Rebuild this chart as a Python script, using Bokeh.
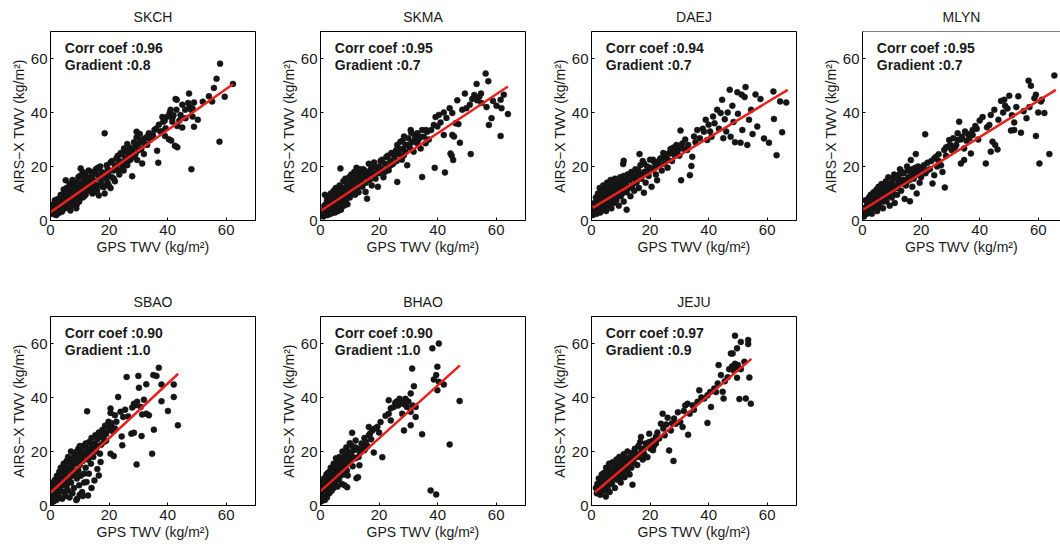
from bokeh.plotting import figure
from bokeh.models import Range1d, FixedTicker, Label, Span
from bokeh.layouts import column, row
from bokeh.embed import file_html
from bokeh.resources import INLINE

FONT = "Liberation Sans"

STATIONS = ["SKCH", "SKMA", "DAEJ", "MLYN", "SBAO", "BHAO", "JEJU"]
CORR = ["0.96", "0.95", "0.94", "0.95", "0.90", "0.90", "0.97"]
GRAD = ["0.8", "0.7", "0.7", "0.7", "1.0", "1.0", "0.9"]
TICKS = [0, 20, 40, 60]

# regression line end points (GPS, AIRS-X)
SKCH_FIT = ([0.0, 62.3], [3.1, 50.5])
SKMA_FIT = ([0.3, 64.0], [3.7, 49.6])
DAEJ_FIT = ([0.4, 67.0], [4.7, 48.4])
MLYN_FIT = ([0.2, 66.0], [4.0, 48.4])
SBAO_FIT = ([0.0, 43.6], [4.7, 48.8])
BHAO_FIT = ([0.0, 47.6], [5.3, 51.9])
JEJU_FIT = ([1.2, 54.6], [4.9, 54.3])

SKCH_PTS = [
    (0.5,2.5),(0.8,4.0),(1.0,3.0),(1.2,5.5),(1.5,2.2),(1.8,4.5),(2.0,6.5),(2.2,3.5),(2.5,5.0),(2.8,2.8),
    (3.0,7.5),(3.2,4.2),(3.5,6.0),(3.8,3.2),(4.0,8.5),(4.2,5.5),(4.5,7.0),(4.8,10.0),(5.0,4.5),(5.2,14.9),
    (5.5,9.0),(5.8,6.5),(6.0,11.0),(6.2,5.0),(6.5,8.0),(6.8,3.7),(7.0,10.5),(7.2,12.0),(7.5,6.5),(7.8,9.5),
    (8.0,13.0),(8.2,7.5),(8.5,11.0),(8.8,4.5),(9.0,9.0),(9.2,14.0),(9.5,12.0),(9.8,7.0),(10.0,16.5),(10.3,19.3),
    (10.5,10.5),(10.8,13.5),(11.0,8.5),(11.2,15.0),(11.5,11.5),(11.8,17.0),(12.0,9.5),(12.3,13.0),(12.6,14.5),(13.0,11.0),
    (13.3,16.0),(13.6,12.5),(14.0,18.0),(14.3,10.0),(14.6,15.0),(15.0,13.5),(15.3,17.5),(15.6,11.5),(15.9,11.2),(16.2,19.5),
    (16.5,9.3),(16.8,15.5),(17.1,14.9),(17.4,18.0),(17.8,12.5),(18.2,12.4),(18.5,32.3),(18.8,16.5),(19.2,20.5),(19.5,14.0),
    (19.9,13.0),(20.2,18.5),(20.5,21.5),(21.0,16.0),(21.6,15.5),(22.0,20.0),(22.5,23.0),(23.0,18.5),(23.5,22.0),(24.0,25.0),
    (24.5,19.5),(25.1,26.7),(25.5,21.5),(26.2,28.3),(26.2,20.5),(26.8,24.0),(27.3,22.5),(27.9,26.1),(27.9,16.4),(28.5,23.6),
    (29.0,27.5),(29.4,32.9),(29.4,30.8),(29.6,22.4),(30.0,26.0),(30.8,29.8),(31.3,21.1),(31.9,24.6),(32.1,30.4),(33.0,28.0),
    (33.6,32.3),(34.7,31.1),(35.5,33.5),(36.4,25.8),(36.8,21.4),(37.5,33.0),(38.2,38.3),(38.5,36.6),(39.1,31.3),(39.3,34.2),
    (40.4,30.1),(40.7,39.8),(41.0,41.0),(41.2,29.6),(41.6,37.9),(41.6,36.6),(42.5,27.7),(42.7,45.0),(43.1,44.7),(43.3,27.1),
    (43.3,35.0),(44.4,39.1),(45.0,42.9),(45.0,34.4),(46.1,37.9),(47.3,47.0),(47.5,42.0),(48.1,19.0),(48.5,41.5),(49.0,43.7),
    (49.0,34.7),(50.3,37.3),(54.1,46.0),(55.2,44.1),(55.8,49.1),(56.7,52.5),(57.7,29.2),(57.9,58.1),(59.5,45.8),(62.3,50.6),
    (1.0,6.0),(1.5,7.5),(2.0,2.0),(2.5,8.0),(3.0,5.5),(3.5,9.5),(4.0,3.5),(4.5,11.5),(5.0,7.0),(5.5,12.0),
    (6.0,8.5),(6.5,13.5),(7.0,5.5),(7.5,15.0),(8.0,10.0),(8.5,14.0),(9.0,6.0),(9.5,16.0),(10.0,9.0),(10.5,13.0),
    (11.0,18.0),(11.5,9.0),(12.0,16.0),(12.5,11.5),(13.0,18.5),(13.5,14.0),(14.0,12.0),(14.5,17.0),(15.0,10.5),(15.5,19.0),
    (16.0,13.0),(16.5,16.5),(17.0,20.0),(17.5,13.5),(18.0,17.5),(18.5,10.0),(19.0,15.5),(19.5,19.0),(20.0,16.5),(20.5,12.0),
    (21.0,22.0),(21.5,18.5),(22.0,14.5),(22.5,20.5),(23.0,24.0),(23.5,17.0),(24.0,21.5),(24.5,24.5),(25.0,18.5),(25.5,23.0),
    (26.0,25.5),(26.5,22.0),(27.0,27.0),(28.0,25.0),(28.5,29.0),(29.0,24.5),(30.0,28.5),(30.5,32.0),(31.0,26.5),(32.0,28.5),
    (33.0,31.0),(34.0,30.0),(35.0,31.5),(36.0,34.0),(37.0,35.5),(38.0,33.0),(39.0,37.0),(40.0,38.5),(42.0,39.0),(43.0,41.0),
    (44.0,37.0),(46.0,41.0),(47.0,43.5),(48.0,41.0),(48.5,38.5),(52.0,44.0),
]

SKMA_PTS = [
    (1.0,1.5),(1.2,4.0),(1.5,2.5),(1.5,9.5),(1.8,6.0),(2.0,3.0),(2.2,7.5),(2.5,2.0),(2.5,5.0),(2.8,8.5),
    (3.0,3.5),(3.2,6.5),(3.5,10.0),(3.5,2.5),(3.8,5.0),(4.0,8.0),(4.2,3.8),(4.5,11.0),(4.5,6.5),(4.8,4.5),
    (5.0,9.0),(5.2,12.0),(5.5,5.5),(5.5,7.5),(5.8,10.5),(6.0,3.5),(6.2,8.0),(6.5,13.0),(6.5,6.0),(6.8,19.3),
    (7.0,10.0),(7.0,4.0),(7.3,12.0),(7.5,7.0),(7.8,14.5),(8.0,9.0),(8.0,5.5),(8.3,11.5),(8.5,15.5),(8.8,8.0),
    (9.0,13.0),(9.2,6.0),(9.5,10.5),(9.8,16.0),(10.0,12.5),(10.0,8.5),(10.3,14.0),(10.5,17.0),(10.8,10.0),(11.0,15.0),
    (11.2,12.0),(11.5,18.0),(11.8,9.5),(12.0,14.5),(12.3,19.5),(12.5,12.0),(12.8,16.0),(13.0,10.5),(13.3,17.5),(13.6,14.0),
    (14.0,15.5),(14.3,12.5),(14.6,19.0),(15.0,16.5),(15.4,10.6),(15.5,14.0),(15.9,8.1),(16.0,18.0),(16.5,21.0),(16.8,15.0),
    (17.2,19.0),(17.5,13.0),(18.0,17.0),(18.3,21.5),(18.8,15.5),(19.2,19.5),(19.6,12.5),(20.0,17.5),(20.5,22.0),(21.0,19.0),
    (21.5,16.0),(22.0,21.0),(22.5,23.5),(23.0,19.5),(23.3,18.6),(23.8,22.0),(24.2,25.0),(24.8,21.0),(25.2,23.5),(25.8,26.0),
    (26.2,28.0),(26.2,14.3),(26.8,24.5),(27.3,29.2),(27.8,22.5),(28.2,26.5),(28.5,31.1),(28.5,24.2),(29.0,28.0),(29.6,20.5),
    (30.0,30.5),(30.5,27.0),(30.8,33.5),(31.2,29.0),(31.8,25.5),(32.2,31.5),(33.0,32.3),(33.0,28.6),(33.5,30.0),(34.2,26.7),
    (34.7,33.5),(34.7,16.1),(35.3,31.0),(35.9,28.6),(36.4,32.9),(37.0,30.0),(37.8,33.5),(38.7,35.4),(39.0,19.5),(39.3,38.3),
    (39.9,34.8),(40.4,39.1),(41.0,36.3),(42.1,40.0),(42.1,31.7),(42.5,17.8),(43.0,38.0),(44.1,41.6),(44.4,24.8),(44.8,24.0),
    (45.0,39.8),(45.0,31.7),(45.3,22.4),(45.6,31.1),(46.1,36.0),(46.7,44.5),(47.1,35.7),(47.6,28.8),(48.4,41.0),(49.3,47.0),
    (49.8,41.6),(51.0,42.9),(51.3,24.6),(51.8,45.0),(52.5,46.5),(53.3,50.6),(53.5,44.5),(54.2,45.8),(54.8,47.0),(55.0,43.5),
    (56.4,54.4),(56.7,42.0),(57.3,51.6),(57.5,35.4),(58.4,37.9),(58.9,44.3),(60.1,42.5),(61.5,44.7),(61.5,31.3),(61.8,41.6),
    (62.6,46.6),(64.0,39.4),
    (1.0,3.0),(1.3,5.5),(1.8,2.0),(2.0,4.5),(2.3,9.0),(2.7,3.5),(3.0,6.0),(3.3,4.0),(3.7,7.5),(4.0,2.8),
    (4.3,9.5),(4.7,5.5),(5.0,3.0),(5.3,7.0),(5.7,4.5),(6.0,10.0),(6.3,5.0),(6.7,11.5),(7.0,7.5),(7.5,9.5),
    (8.0,12.0),(8.5,7.0),(9.0,10.0),(9.5,13.5),(10.0,10.0),(10.5,12.0),(11.0,13.5),(11.5,10.5),(12.0,17.0),(12.5,15.0),
    (13.0,13.0),(13.5,19.0),(14.0,17.0),(15.0,18.5),(16.0,16.0),(17.0,17.5),(18.0,19.5),(19.0,17.5),(20.0,20.0),(21.0,22.5),
    (22.0,18.0),(23.0,24.0),(24.0,20.5),(25.0,25.0),(26.0,22.0),(27.0,26.5),(28.0,29.5),(29.0,25.5),(30.0,28.0),(31.0,32.5),
    (32.0,29.5),(34.0,31.0),(36.0,33.5),
]

DAEJ_PTS = [
    (0.5,2.0),(0.8,4.0),(1.0,6.5),(1.2,3.0),(1.5,5.0),(1.5,8.5),(1.8,2.5),(2.0,6.0),(2.2,10.0),(2.5,4.0),
    (2.5,7.5),(2.8,12.0),(3.0,3.0),(3.0,9.0),(3.2,5.5),(3.5,11.0),(3.8,7.0),(4.0,4.5),(4.0,13.0),(4.3,9.5),
    (4.5,6.0),(4.8,11.5),(5.0,3.5),(5.0,8.0),(5.3,14.0),(5.5,10.0),(5.8,5.5),(6.0,12.5),(6.2,7.5),(6.5,9.5),
    (6.5,15.0),(6.8,4.5),(7.0,11.0),(7.3,13.5),(7.5,6.5),(7.8,9.0),(8.0,15.5),(8.2,12.0),(8.5,7.5),(8.8,10.5),
    (9.0,14.0),(9.3,5.5),(9.5,12.5),(9.8,16.0),(10.0,9.0),(10.3,11.5),(10.5,14.5),(10.8,20.9),(11.0,22.1),(11.0,7.0),
    (11.3,13.0),(11.6,15.5),(12.0,4.0),(12.0,10.5),(12.3,17.0),(12.6,12.5),(13.0,15.0),(13.3,9.0),(13.6,18.0),(14.0,13.0),
    (14.3,16.0),(14.6,11.0),(15.0,19.0),(15.4,14.0),(15.8,17.0),(16.2,12.0),(16.4,24.6),(16.7,20.5),(17.0,15.5),(17.5,22.0),
    (17.9,10.3),(18.0,18.0),(18.5,14.0),(19.0,20.0),(19.5,16.5),(20.0,22.5),(20.5,12.5),(21.0,19.0),(21.5,21.5),(22.0,17.0),
    (22.4,14.9),(23.0,20.5),(23.5,23.0),(24.0,18.5),(24.5,25.0),(25.0,21.0),(25.5,23.5),(26.0,19.5),(26.5,25.0),(27.0,24.8),
    (27.5,22.0),(28.0,27.0),(28.5,24.0),(29.0,28.0),(29.5,26.0),(30.0,24.0),(30.4,33.3),(30.6,14.9),(31.0,28.5),(31.5,26.5),
    (32.0,30.0),(32.7,26.1),(33.0,28.0),(33.6,16.8),(34.1,20.2),(34.4,23.6),(35.0,31.1),(35.5,29.0),(36.1,33.5),(37.0,30.5),
    (38.0,34.0),(38.4,32.9),(39.0,37.3),(39.5,29.8),(40.0,35.5),(40.5,33.0),(41.0,31.0),(41.5,38.5),(42.0,36.0),(42.9,41.0),
    (43.5,34.0),(44.1,39.8),(44.6,44.7),(45.0,30.5),(45.5,37.5),(46.0,33.0),(46.5,40.0),(47.2,48.4),(47.5,31.0),(48.1,42.5),
    (48.5,36.5),(49.0,29.0),(49.8,47.5),(50.0,39.5),(50.9,28.8),(51.3,46.6),(51.5,33.5),(52.3,45.7),(52.6,49.4),(53.2,28.0),
    (53.8,37.3),(54.5,41.0),(55.0,32.0),(56.0,46.7),(56.6,34.8),(57.7,45.0),(58.9,30.4),(60.6,28.8),(62.1,47.8),(62.3,37.6),
    (63.2,24.2),(64.4,44.1),(65.1,32.7),(66.5,43.7),
    (1.0,4.5),(1.5,3.0),(2.0,8.0),(2.5,5.5),(3.0,7.0),(3.5,4.0),(4.0,10.5),(4.5,8.0),(5.0,6.0),(5.5,12.0),
    (6.0,9.5),(6.5,11.5),(7.0,8.5),(7.5,14.0),(8.0,10.5),(8.5,13.0),(9.0,9.5),(9.5,15.0),(10.0,12.5),(10.5,10.0),
    (11.0,16.5),(12.0,14.5),(13.0,12.0),(14.0,17.0),(15.0,15.0),(16.0,18.5),(17.0,17.0),(18.0,21.0),(19.0,18.0),(20.0,19.5),
    (21.0,22.5),(22.0,20.0),(23.0,22.0),(24.0,23.0),(25.0,24.5),(26.0,22.5),(27.0,26.5),(28.0,25.5),(29.0,27.0),(30.0,27.5),
]

MLYN_PTS = [
    (0.5,1.5),(0.8,3.5),(1.0,7.5),(1.2,5.0),(1.5,2.5),(1.8,6.5),(2.0,4.0),(2.2,8.5),(2.5,3.0),(2.5,6.0),
    (2.8,9.5),(3.0,5.0),(3.2,2.5),(3.5,7.5),(3.8,10.5),(4.0,4.5),(4.2,8.5),(4.5,6.0),(4.8,11.5),(5.0,3.5),
    (5.2,9.0),(5.5,12.5),(5.8,7.0),(6.0,5.0),(6.2,10.5),(6.5,13.5),(6.8,8.0),(7.0,4.5),(7.3,11.5),(7.6,9.5),
    (8.0,14.5),(8.2,7.0),(8.5,12.0),(8.8,16.0),(9.0,10.0),(9.3,5.5),(9.6,13.5),(10.0,8.5),(10.2,15.5),(10.5,11.5),
    (10.8,17.0),(11.0,6.5),(11.4,13.0),(11.8,9.5),(12.0,16.0),(12.4,14.0),(12.8,19.0),(13.2,11.0),(13.6,15.0),(14.0,17.5),
    (14.4,8.0),(14.8,13.0),(15.2,20.0),(15.6,16.0),(16.2,7.1),(16.5,22.4),(16.5,18.0),(17.0,12.5),(17.5,15.5),(18.0,19.5),
    (18.2,24.6),(18.5,10.0),(19.0,17.0),(19.5,14.0),(20.0,19.0),(21.4,31.9),(21.5,17.5),(22.2,21.4),(23.0,19.0),(23.9,13.7),
    (24.5,16.8),(24.5,23.0),(25.1,23.6),(25.5,20.0),(26.0,24.5),(26.8,20.5),(27.3,18.0),(27.9,26.1),(28.1,12.2),(28.5,24.0),
    (29.0,27.3),(29.6,29.8),(30.5,26.0),(31.0,30.5),(32.0,28.0),(32.5,32.3),(32.5,29.8),(33.0,36.6),(33.6,21.1),(34.0,31.0),
    (34.7,26.7),(34.7,22.4),(35.5,29.5),(36.0,32.0),(37.0,24.8),(37.6,33.5),(37.6,31.7),(38.5,35.0),(39.5,30.0),(40.0,37.0),
    (41.0,38.3),(42.1,21.1),(42.5,34.5),(43.3,35.4),(43.8,39.1),(43.8,25.5),(44.4,29.2),(45.0,41.0),(45.3,28.0),(46.1,26.3),
    (46.4,37.3),(47.3,44.3),(48.0,40.0),(48.4,44.7),(48.7,42.5),(49.5,41.5),(50.1,46.2),(50.7,33.3),(51.0,39.0),(51.8,36.3),
    (51.8,33.5),(52.5,42.0),(53.2,46.0),(54.1,32.5),(55.0,40.5),(56.0,37.9),(56.7,51.8),(57.0,42.0),(57.5,49.9),(58.7,45.3),
    (59.2,46.6),(59.2,31.3),(60.0,40.0),(60.4,21.1),(60.9,44.1),(61.2,44.7),(62.1,39.8),(63.8,24.6),(65.5,53.7),
    (1.0,3.0),(1.5,5.5),(2.0,7.0),(2.5,4.5),(3.0,8.0),(3.5,5.0),(4.0,9.5),(4.5,7.5),(5.0,6.0),(5.5,10.5),
    (6.0,8.5),(6.5,11.0),(7.0,7.0),(7.5,13.0),(8.0,10.0),(8.5,9.0),(9.0,12.5),(9.5,11.0),(10.0,14.0),(10.5,9.5),
    (11.0,12.0),(11.5,15.5),(12.0,12.0),(12.5,17.0),(13.0,13.5),(13.5,18.0),(14.0,15.0),(15.0,14.0),(15.5,18.5),(16.0,15.0),
    (17.0,19.0),(17.5,17.0),(18.5,18.0),(19.0,20.0),(20.0,16.0),(21.0,20.5),(22.0,18.5),(23.5,22.0),(26.0,22.0),(28.5,27.0),
    (30.0,28.0),(31.5,27.0),(33.5,30.0),(35.0,33.0),(36.5,30.5),(39.0,34.0),
]

SBAO_PTS = [
    (0.2,1.0),(0.3,3.5),(0.5,6.0),(0.5,2.0),(0.8,8.5),(1.0,4.5),(1.0,1.5),(1.2,7.0),(1.5,3.0),(1.5,9.5),
    (1.8,5.5),(2.0,2.0),(2.0,8.0),(2.2,11.0),(2.5,4.0),(2.5,6.5),(2.8,10.0),(3.0,3.0),(3.0,12.5),(3.2,8.5),
    (3.5,5.5),(3.5,14.0),(3.8,10.5),(4.0,2.5),(4.0,7.5),(4.2,12.0),(4.5,15.5),(4.5,5.0),(4.8,9.5),(5.0,13.5),
    (5.0,3.5),(5.2,11.0),(5.5,16.5),(5.5,7.0),(5.8,14.0),(6.0,5.5),(6.0,18.0),(6.2,10.0),(6.5,12.5),(6.5,3.0),
    (6.8,16.0),(7.0,8.5),(7.0,20.0),(7.3,14.5),(7.5,11.0),(7.5,4.5),(7.8,17.5),(8.0,13.0),(8.0,6.5),(8.3,19.0),
    (8.5,15.5),(8.8,2.0),(9.0,10.0),(9.1,2.5),(9.3,17.0),(9.5,21.0),(9.5,13.0),(9.8,7.5),(10.0,18.5),(10.0,15.0),
    (10.3,11.0),(10.5,20.0),(10.8,5.0),(11.0,16.5),(11.2,22.0),(11.4,11.8),(11.5,8.5),(11.8,19.0),(12.0,14.0),(12.3,8.7),
    (12.5,34.9),(12.5,21.0),(12.8,3.7),(12.8,17.0),(13.1,11.8),(13.2,23.5),(13.5,19.5),(13.8,15.5),(14.0,25.0),(14.3,21.5),
    (14.6,18.0),(15.0,9.3),(15.0,23.0),(15.3,26.0),(15.6,20.0),(16.0,24.5),(16.5,11.1),(16.5,27.0),(16.9,19.2),(17.1,16.1),
    (17.3,22.5),(17.7,28.0),(18.0,25.5),(18.2,23.5),(18.6,29.5),(19.0,26.5),(19.4,29.7),(19.8,31.0),(20.0,28.0),(20.5,35.9),
    (20.5,34.3),(20.5,19.2),(20.8,30.5),(21.3,27.5),(21.6,18.3),(22.0,33.4),(22.5,31.0),(23.1,40.2),(23.9,34.7),(24.3,25.6),
    (24.5,22.3),(24.8,32.8),(25.5,35.5),(26.0,47.6),(26.5,33.0),(27.6,26.6),(27.9,36.3),(28.5,37.7),(28.5,26.9),(29.0,37.1),
    (29.4,15.2),(29.6,38.4),(30.0,48.0),(30.2,43.6),(30.8,36.5),(31.1,25.7),(31.3,33.7),(31.9,39.2),(32.7,34.0),(32.7,44.9),
    (33.6,33.4),(34.7,19.2),(35.1,48.3),(35.3,28.1),(36.2,48.0),(37.0,51.0),(37.9,44.8),(37.9,38.6),(40.1,35.0),(42.1,44.8),
    (42.1,40.2),(43.5,29.7),
    (1.0,6.0),(1.5,4.5),(2.0,5.0),(2.5,9.0),(3.0,6.0),(3.5,11.5),(4.0,9.0),(4.5,12.5),(5.0,8.0),(5.5,13.0),
    (6.0,15.0),(6.5,9.0),(7.0,12.5),(7.5,16.0),(8.0,18.0),(8.5,12.0),(9.0,20.0),(9.5,16.0),(10.0,22.0),(10.5,17.5),
    (11.0,19.5),(12.0,23.0),(12.5,18.5),(13.0,20.5),(14.0,22.5),(15.0,20.5),(16.0,22.0),(17.0,25.5),(18.0,27.5),(19.0,24.0),
    (21.0,29.0),(22.0,28.5),(11.0,3.5),(14.0,6.5),(10.0,4.0),(16.0,13.5),
]

BHAO_PTS = [
    (0.2,1.5),(0.3,4.0),(0.5,6.5),(0.5,2.5),(0.8,8.5),(1.0,3.5),(1.0,5.5),(1.2,10.0),(1.5,2.0),(1.5,7.0),
    (1.8,4.5),(2.0,9.0),(2.0,11.5),(2.2,3.0),(2.5,6.0),(2.5,8.0),(2.8,10.5),(3.0,4.5),(3.0,12.5),(3.2,7.0),
    (3.5,9.5),(3.5,14.0),(3.8,5.5),(4.0,11.0),(4.0,8.0),(4.2,13.0),(4.5,6.5),(4.5,15.5),(4.8,10.0),(5.0,12.0),
    (5.0,8.5),(5.3,17.5),(5.5,14.0),(5.5,10.5),(5.8,7.0),(6.0,16.0),(6.0,12.5),(6.3,9.5),(6.5,18.0),(6.5,14.0),
    (6.8,11.0),(7.0,15.5),(7.3,8.0),(7.5,13.0),(7.5,20.0),(7.8,17.0),(8.0,11.5),(8.2,7.5),(8.5,15.0),(8.8,21.5),
    (9.0,18.0),(9.0,13.0),(9.3,11.1),(9.1,6.8),(9.5,20.0),(10.0,23.1),(10.0,16.5),(10.3,19.0),(10.8,26.9),(10.8,22.0),
    (11.0,14.5),(11.5,20.5),(12.0,24.1),(12.0,17.5),(12.3,10.1),(12.8,10.5),(12.8,21.0),(13.3,14.9),(13.5,19.5),(14.0,23.0),
    (14.5,21.0),(15.0,25.0),(15.0,20.5),(15.5,23.5),(16.0,22.0),(16.5,29.1),(16.5,26.0),(16.9,26.6),(17.3,24.5),(17.7,27.8),
    (18.2,19.6),(18.5,28.5),(19.4,29.1),(20.0,27.0),(20.5,30.9),(21.1,17.9),(22.2,33.2),(23.3,39.0),(23.3,34.0),(24.0,31.5),
    (25.0,36.5),(25.5,38.0),(26.5,37.0),(27.0,39.5),(27.9,34.0),(28.5,27.8),(28.5,37.5),(29.5,36.5),(30.0,38.5),(30.8,41.5),
    (30.8,34.7),(30.8,29.7),(31.3,50.7),(31.5,37.0),(31.9,44.2),(32.5,36.5),(32.5,32.8),(34.7,26.4),(37.6,5.6),(38.2,58.2),
    (38.7,46.7),(39.5,48.3),(39.5,4.1),(39.9,51.4),(39.9,42.7),(40.4,60.0),(40.4,45.8),(42.1,44.8),(44.1,22.6),(47.5,38.7),
    (1.0,8.0),(1.5,5.0),(2.0,6.5),(2.5,12.0),(3.0,9.5),(3.5,6.5),(4.0,13.5),(4.5,11.5),(5.0,15.0),(5.5,12.0),
    (6.0,10.0),(6.5,15.5),(7.0,13.0),(7.5,17.5),(8.0,14.5),(8.5,19.0),(9.0,16.0),(10.0,19.5),(11.0,18.0),(12.0,21.5),
    (13.0,18.0),(14.0,20.0),(15.5,21.5),(26.0,38.5),(28.0,38.0),(29.0,39.5),(24.0,36.0),
]

JEJU_PTS = [
    (1.5,6.5),(1.8,4.5),(2.0,8.0),(2.2,5.5),(2.5,10.0),(2.8,7.0),(3.0,4.0),(3.2,9.0),(3.5,11.5),(3.8,6.0),
    (4.0,8.5),(4.2,12.0),(4.5,5.5),(4.8,10.0),(4.9,3.3),(5.0,14.0),(5.3,7.5),(5.5,12.5),(5.8,9.0),(6.0,15.5),
    (6.2,5.0),(6.5,11.0),(6.8,13.5),(7.0,8.0),(7.2,16.0),(7.5,10.5),(7.8,14.0),(8.0,6.5),(8.2,12.0),(8.5,17.0),
    (8.8,9.5),(9.0,15.0),(9.2,11.5),(9.5,18.0),(9.8,13.0),(10.0,8.5),(10.2,16.5),(10.5,12.0),(10.8,14.5),(11.0,19.0),
    (11.3,10.5),(11.6,17.0),(12.0,13.5),(12.3,20.0),(12.6,15.5),(13.0,11.5),(13.3,18.0),(13.6,14.0),(14.0,7.7),(14.0,19.5),
    (14.4,16.0),(14.8,21.0),(15.2,18.0),(15.6,15.0),(16.0,22.0),(16.6,23.5),(16.9,25.4),(17.0,19.5),(17.5,17.0),(18.0,21.0),
    (18.5,23.0),(19.1,17.9),(19.7,26.6),(19.7,23.5),(20.2,21.0),(20.8,24.0),(21.3,22.0),(22.0,25.5),(22.5,27.0),(23.1,24.8),
    (23.7,30.3),(24.3,34.0),(24.5,28.5),(25.0,26.0),(25.5,30.0),(26.0,32.5),(26.5,20.4),(27.1,27.8),(27.5,30.5),(28.0,16.5),
    (28.2,32.2),(28.8,30.3),(29.5,34.5),(30.3,30.9),(31.1,29.1),(31.5,35.0),(32.0,37.0),(32.8,37.7),(33.0,26.2),(33.5,34.0),
    (34.5,37.1),(35.0,35.5),(36.2,38.4),(36.8,42.7),(37.5,40.0),(38.5,39.6),(39.6,40.8),(39.6,30.6),(40.5,42.0),(40.8,36.5),
    (41.9,43.3),(42.5,42.0),(43.1,45.2),(43.4,52.0),(44.2,48.3),(44.8,42.1),(45.1,39.6),(45.5,46.0),(46.5,47.5),(47.0,50.5),
    (47.6,56.3),(48.2,56.3),(48.0,51.5),(48.5,50.0),(49.0,62.9),(49.0,52.5),(49.5,51.0),(49.7,58.2),(49.7,47.3),(50.0,52.0),
    (50.5,39.4),(51.0,60.6),(51.0,50.5),(52.2,53.2),(52.7,39.6),(53.5,61.3),(53.5,59.8),(53.9,47.4),(54.4,37.7),
    (2.0,6.0),(3.0,7.5),(3.5,5.5),(4.0,10.5),(5.0,9.0),(5.5,6.5),(6.0,11.5),(6.5,8.5),(7.0,13.0),(7.5,12.0),
    (8.0,10.0),(8.5,14.5),(9.0,12.5),(9.5,10.0),(10.0,15.0),(10.5,17.5),(11.0,13.0),(11.5,15.0),(12.0,17.5),(12.5,12.0),
    (13.0,16.5),(14.0,17.0),(15.0,19.5),(16.0,18.0),(17.0,21.0),(18.0,19.0),(19.0,22.5),(20.0,23.0),(21.0,20.5),(22.0,23.0),
]

TEXT = "#1a1a1a"
FRAME_H = 189


def panel(name, pts, fit, corr, grad, frame_w, xmax, bottom, right, open_right=False):
    xs = [q[0] for q in pts]
    ys = [q[1] for q in pts]
    p = figure(frame_width=frame_w, frame_height=FRAME_H,
               x_range=Range1d(0, xmax), y_range=Range1d(0, 70),
               output_backend="svg", toolbar_location=None, title=name,
               min_border_left=50, min_border_right=right,
               min_border_top=31, min_border_bottom=bottom,
               background_fill_color="white", border_fill_color="white")
    p.title.align = "center"
    p.title.text_font = FONT
    p.title.text_font_size = "14px"
    p.title.text_font_style = "normal"
    p.title.text_color = TEXT
    p.title.standoff = 13
    p.grid.visible = False
    if open_right:
        p.outline_line_color = None
        p.add_layout(Span(location=70, dimension="width", line_color="black", line_width=1))
    else:
        p.outline_line_color = "black"
        p.outline_line_alpha = 1.0
        p.outline_line_width = 1
    for ax in (p.xaxis[0], p.yaxis[0]):
        ax.ticker = FixedTicker(ticks=TICKS)
        ax.major_tick_in = 3
        ax.major_tick_out = 0
        ax.minor_tick_line_color = None
        ax.axis_line_color = "black"
        ax.major_tick_line_color = "black"
        ax.major_label_text_font = FONT
        ax.major_label_text_font_size = "15px"
        ax.major_label_text_color = TEXT
        ax.axis_label_text_font = FONT
        ax.axis_label_text_font_size = "14px"
        ax.axis_label_text_font_style = "normal"
        ax.axis_label_text_color = TEXT
    p.xaxis[0].axis_label = "GPS TWV (kg/m²)"
    p.yaxis[0].axis_label = "AIRS−X TWV (kg/m²)"
    p.xaxis[0].major_label_standoff = 4
    p.xaxis[0].axis_label_standoff = 1
    p.yaxis[0].major_label_standoff = 3
    p.yaxis[0].axis_label_standoff = 1

    p.scatter(xs, ys, size=6, fill_color="#151515", line_color="#151515", line_width=0.5)
    p.line(fit[0], fit[1], line_color="#e8211d", line_width=2.5)

    for txt, yy in (("Corr coef :" + corr, 63.8), ("Gradient :" + grad, 57.6)):
        p.add_layout(Label(x=4.9, y=yy, text=txt, text_font=FONT, text_font_size="14px",
                           text_font_style="bold", text_color=TEXT, text_baseline="alphabetic"))
    return p


PTS = [SKCH_PTS, SKMA_PTS, DAEJ_PTS, MLYN_PTS, SBAO_PTS, BHAO_PTS, JEJU_PTS]
FITS = [SKCH_FIT, SKMA_FIT, DAEJ_FIT, MLYN_FIT, SBAO_FIT, BHAO_FIT, JEJU_FIT]
RIGHT = [15, 16, 16, 0, 15, 16, 16]

figs = []
for i in range(7):
    top = i < 4
    last = i == 3
    fw = 198 if last else 205
    xmax = 67.6 if last else 70
    figs.append(panel(STATIONS[i], PTS[i], FITS[i], CORR[i], GRAD[i], fw, xmax,
                      65 if top else 40, RIGHT[i], open_right=last))

layout = column(row(*figs[:4]), row(*figs[4:]))
open("out.html", "w").write(file_html(layout, INLINE))
